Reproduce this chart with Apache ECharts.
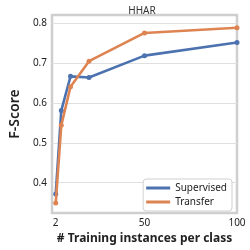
<!DOCTYPE html>
<html><head><meta charset="utf-8">
<script src="https://cdn.jsdelivr.net/npm/echarts@6/dist/echarts.min.js"></script>
<style>html,body{margin:0;padding:0;background:#fff}#c{width:250px;height:250px}</style>
</head><body><div id="c"></div>
<script>
const xValues = [2, 5, 10, 20, 50, 100];
const supervised = [0.372, 0.581, 0.667, 0.664, 0.719, 0.752];
const transfer = [0.349, 0.544, 0.641, 0.705, 0.776, 0.789];
const xTicks = [2, 50, 100];
const yTicks = [0.4, 0.5, 0.6, 0.7, 0.8];
const seriesNames = ['Supervised', 'Transfer'];
const colors = ['#4C72B0', '#DD8452'];
const FONT = 'Noto Sans';

const chart = echarts.init(document.getElementById('c'));
const mk = (name, vals, color, z) => ({
  name, type: 'line', z,
  data: xValues.map((x, i) => [x, vals[i]]),
  symbol: 'circle', symbolSize: 5,
  lineStyle: { color, width: 2.6 },
  itemStyle: { color },
  animation: false
});
chart.setOption({
  animation: false,
  title: { text: 'HHAR', left: 137, top: 1, textAlign: 'center',
    textStyle: { fontFamily: FONT, fontSize: 10, fontWeight: 'normal', color: '#333' } },
  grid: { left: 37, right: 13, top: 15, bottom: 34, show: true, borderColor: '#cfcfcf', borderWidth: 2.5 },
  xAxis: {
    type: 'value', min: 0, max: 100,
    name: '# Training instances per class', nameLocation: 'middle', nameGap: 20,
    nameTextStyle: { fontFamily: FONT, fontSize: 12, fontWeight: 'bold', color: '#222' },
    axisLine: { show: false }, axisTick: { show: false, customValues: xTicks },
    splitLine: { show: false },
    axisLabel: { customValues: xTicks, fontFamily: FONT, fontSize: 10, color: '#222', margin: 5 }
  },
  yAxis: {
    type: 'value', min: 0.324, max: 0.821,
    name: 'F-Score', nameLocation: 'middle', nameGap: 22,
    nameTextStyle: { fontFamily: FONT, fontSize: 14, fontWeight: 600, color: '#222' },
    axisLine: { show: false }, axisTick: { show: false, customValues: yTicks },
    splitLine: { show: true, lineStyle: { color: '#e0e0e0', width: 1.2 } },
    axisLabel: { customValues: yTicks, fontFamily: FONT, fontSize: 10, color: '#222', margin: 5,
      formatter: v => v.toFixed(1) }
  },
  legend: {
    orient: 'vertical', right: 18, bottom: 39,
    data: seriesNames.map(n => ({ name: n, icon: 'rect' })),
    itemWidth: 24, itemHeight: 3, itemGap: 4,
    backgroundColor: '#fff', borderColor: '#d0d0d0', borderWidth: 1, borderRadius: 3,
    padding: [4, 5, 4, 3],
    textStyle: { fontFamily: FONT, fontSize: 10, color: '#222' }
  },
  series: [mk(seriesNames[0], supervised, colors[0], 2), mk(seriesNames[1], transfer, colors[1], 3)]
});
</script></body></html>
